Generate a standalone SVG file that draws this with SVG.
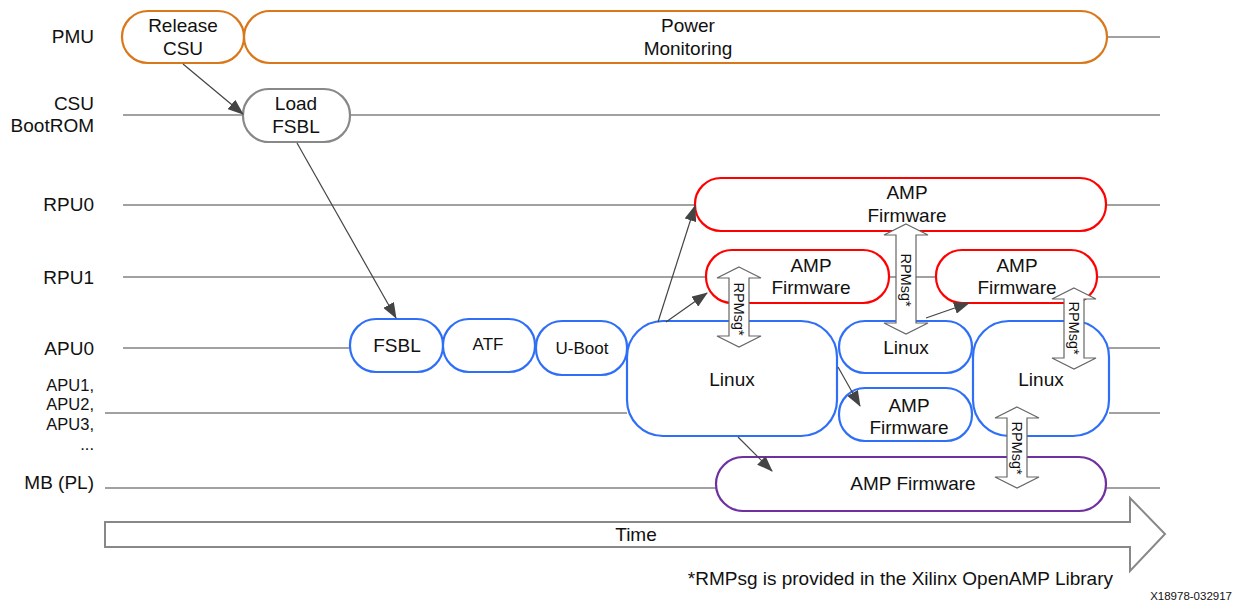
<svg xmlns="http://www.w3.org/2000/svg" width="1243" height="603" viewBox="0 0 1243 603">
<style>
text{font-family:"Liberation Sans",Arial,sans-serif;fill:#111;}
.lbl{font-size:19px;text-anchor:end;}
.lbs{font-size:16.5px;text-anchor:end;}
.t{font-size:19px;text-anchor:middle;}
.ts{font-size:17px;text-anchor:middle;}
.lane{stroke:#444;stroke-width:1.2;fill:none;}
.or{fill:#fff;stroke:#D9781A;stroke-width:2.2;}
.gr{fill:#fff;stroke:#888;stroke-width:2.2;}
.rd{fill:#fff;stroke:#F00;stroke-width:2.2;}
.bl{fill:#fff;stroke:#2F6FF7;stroke-width:2.2;}
.pu{fill:#fff;stroke:#7030A0;stroke-width:2.2;}
.con{stroke:#444;stroke-width:1.2;fill:none;marker-end:url(#ah);}
.dbl{fill:#fff;stroke:#666;stroke-width:1.2;}
.rp{font-size:14.5px;text-anchor:middle;}
</style>
<defs>
<marker id="ah" markerUnits="userSpaceOnUse" markerWidth="16" markerHeight="12" refX="15" refY="6" orient="auto">
<path d="M0,0 L16,6 L0,12 Z" fill="#444"/>
</marker>
</defs>
<rect width="1243" height="603" fill="#fff"/>
<g id="lanes">
<text class="lbl" x="94" y="43">PMU</text>
<text class="lbl" x="94" y="110">CSU</text>
<text class="lbl" x="94" y="132">BootROM</text>
<text class="lbl" x="94" y="211">RPU0</text>
<text class="lbl" x="94" y="284">RPU1</text>
<text class="lbl" x="94" y="355">APU0</text>
<text class="lbs" x="94" y="391">APU1,</text>
<text class="lbs" x="94" y="410">APU2,</text>
<text class="lbs" x="94" y="430">APU3,</text>
<text class="lbs" x="94" y="450">...</text>
<text class="lbl" x="94" y="489">MB (PL)</text>
<path class="lane" d="M1107,37 H1160 M123,115 H243 M350,115 H1160 M123,205 H695 M1106,205 H1160 M123,277 H706 M889,277 H936 M1097,277 H1160 M123,348 H350 M1109,348 H1160 M105,413 H627 M1109,413 H1160 M105,488 H716 M1106,488 H1160"/>
</g>
<g id="n-release"><rect class="or" x="122" y="11" width="122" height="52" rx="26"/><text class="t" x="183" y="32">Release</text><text class="t" x="183" y="55">CSU</text></g>
<g id="n-power"><rect class="or" x="244" y="11" width="863" height="52" rx="26"/><text class="t" x="688" y="32">Power</text><text class="t" x="688" y="55">Monitoring</text></g>
<g id="n-loadfsbl"><rect class="gr" x="243" y="89" width="107" height="53" rx="26"/><text class="t" x="296" y="110">Load</text><text class="t" x="296" y="133">FSBL</text></g>
<g id="n-rpu0amp"><rect class="rd" x="695" y="178" width="411" height="53" rx="26"/><text class="t" x="907" y="199">AMP</text><text class="t" x="907" y="222">Firmware</text></g>
<g id="n-rpu1amp1"><rect class="rd" x="706" y="250" width="183" height="53" rx="26"/><text class="t" x="811" y="272">AMP</text><text class="t" x="811" y="294">Firmware</text></g>
<g id="n-rpu1amp2"><rect class="rd" x="936" y="250" width="161" height="53" rx="26"/><text class="t" x="1017" y="272">AMP</text><text class="t" x="1017" y="294">Firmware</text></g>
<g id="n-fsbl"><rect class="bl" x="350" y="319" width="93" height="53" rx="26"/><text class="t" x="397" y="352">FSBL</text></g>
<g id="n-atf"><rect class="bl" x="443" y="319" width="92" height="53" rx="26"/><text class="ts" x="488" y="350">ATF</text></g>
<g id="n-uboot"><rect class="bl" x="536" y="321" width="91" height="54" rx="26"/><text class="ts" x="582" y="354">U-Boot</text></g>
<g id="n-linux1"><rect class="bl" x="627" y="321" width="210" height="115" rx="36"/><text class="t" x="732" y="386">Linux</text></g>
<g id="n-linux2"><rect class="bl" x="839" y="321" width="133" height="52" rx="26"/><text class="t" x="906" y="354">Linux</text></g>
<g id="n-apuamp"><rect class="bl" x="839" y="388" width="133" height="53" rx="26"/><text class="t" x="909" y="412">AMP</text><text class="t" x="909" y="434">Firmware</text></g>
<g id="n-linux3"><rect class="bl" x="973" y="321" width="136" height="115" rx="36"/><text class="t" x="1041" y="386">Linux</text></g>
<g id="n-mbamp"><rect class="pu" x="716" y="457" width="390" height="54" rx="27"/><text class="t" x="913" y="490">AMP Firmware</text></g>
<g id="connectors">
<path class="con" d="M183,64 L243,114"/>
<path class="con" d="M297,143 L396,318"/>
<path class="con" d="M658,322 L695,206"/>
<path class="con" d="M666,322 L707,293"/>
<path class="con" d="M838,367 L860,406"/>
<path class="con" d="M926,318 L969,303"/>
<path class="con" d="M738,437 L772,471"/>
<g id="rpmsg1"><path class="dbl" d="M739,267 L761,278 L749,278 L749,336 L761,336 L739,347 L717,336 L729,336 L729,278 L717,278 Z"/><text class="rp" transform="translate(739,309) rotate(90)" y="5">RPMsg*</text></g>
<g id="rpmsg2"><path class="dbl" d="M906,224 L928,235 L916,235 L916,323 L928,323 L906,334 L884,323 L896,323 L896,235 L884,235 Z"/><text class="rp" transform="translate(906,280) rotate(90)" y="5">RPMsg*</text></g>
<g id="rpmsg3"><path class="dbl" d="M1074,288 L1096,299 L1084,299 L1084,358 L1096,358 L1074,369 L1052,358 L1064,358 L1064,299 L1052,299 Z"/><text class="rp" transform="translate(1074,328) rotate(90)" y="5">RPMsg*</text></g>
<g id="rpmsg4"><path class="dbl" d="M1017,407 L1039,418 L1027,418 L1027,477 L1039,477 L1017,488 L995,477 L1007,477 L1007,418 L995,418 Z"/><text class="rp" transform="translate(1017,448) rotate(90)" y="5">RPMsg*</text></g>
</g>
<g id="time">
<path d="M105,522 L1130,522 L1130,498 L1165,534 L1130,571 L1130,547 L105,547 Z" fill="#fff" stroke="#888" stroke-width="2"/>
<text class="t" x="636" y="541">Time</text>
</g>
<text x="1113" y="585" style="font-size:19px;text-anchor:end">*RMPsg is provided in the Xilinx OpenAMP Library</text>
<text x="1232" y="600" style="font-size:11.5px;text-anchor:end">X18978-032917</text>
</svg>
